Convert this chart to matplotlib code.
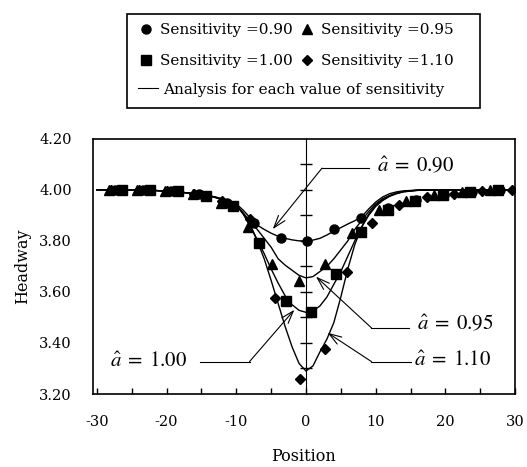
import numpy as np
import matplotlib
matplotlib.use("Agg")
import matplotlib.pyplot as plt
from matplotlib.lines import Line2D
from matplotlib.patches import Rectangle

plt.rcParams["font.family"] = ["DejaVu Serif"]
plt.rcParams["mathtext.fontset"] = "stix"
plt.rcParams["axes.unicode_minus"] = False

# measured points (position, headway) for each sensitivity
X_090 = [-27.4, -23.4, -19.4, -15.4, -11.4, -7.45, -3.57, 0.14, 4.0, 7.86, 11.8, 15.8, 19.8, 23.8, 27.8]
Y_090 = [4.00, 4.00, 3.995, 3.985, 3.95, 3.87, 3.81, 3.80, 3.846, 3.889, 3.93, 3.96, 3.98, 3.99, 4.00]

X_095 = [-28.2, -24.2, -20.2, -16.2, -12.2, -8.3, -4.9, -0.96, 2.7, 6.6, 10.5, 14.4, 18.4, 22.4, 26.4]
Y_095 = [4.00, 4.00, 3.995, 3.985, 3.95, 3.856, 3.71, 3.643, 3.71, 3.83, 3.92, 3.955, 3.98, 3.99, 4.00]

X_100 = [-26.4, -22.4, -18.4, -14.4, -10.5, -6.7, -2.86, 0.7, 4.3, 7.9, 11.7, 15.6, 19.6, 23.6, 27.6]
Y_100 = [4.00, 4.00, 3.995, 3.975, 3.935, 3.79, 3.565, 3.52, 3.67, 3.834, 3.92, 3.955, 3.98, 3.99, 4.00]

X_110 = [-28.0, -24.0, -20.0, -16.0, -12.0, -8.1, -4.4, -0.8, 2.7, 5.9, 9.5, 13.4, 17.3, 21.3, 25.3, 29.6]
Y_110 = [4.00, 4.00, 3.995, 3.985, 3.955, 3.886, 3.578, 3.258, 3.376, 3.68, 3.87, 3.94, 3.97, 3.985, 3.995, 4.00]

# analysis curves
CURVE_X = [-30, -26, -22, -19, -17, -15, -14, -13, -12, -11,
           -10, -9, -8, -7, -6, -5, -4, -3, -2, -1, 0, 1, 2, 3, 4, 5, 6, 7, 8, 9, 10, 11, 12, 13, 14,
           16, 18, 20, 25, 30]
CURVE_090 = [4.000, 4.000, 3.998, 3.993, 3.988, 3.982, 3.978, 3.972, 3.965, 3.956,
             3.945, 3.92, 3.89, 3.862, 3.845, 3.83, 3.818, 3.81, 3.804, 3.80, 3.80, 3.803, 3.81,
             3.823, 3.838, 3.852, 3.866, 3.879, 3.895, 3.925, 3.952, 3.972, 3.985, 3.992, 3.996,
             3.999, 4.0, 4.0, 4.0, 4.0]
CURVE_095 = [4.000, 4.000, 3.998, 3.993, 3.988, 3.982, 3.977, 3.971, 3.963, 3.953,
             3.94, 3.91, 3.875, 3.845, 3.81, 3.775, 3.73, 3.705, 3.685, 3.665, 3.655, 3.66, 3.68,
             3.70, 3.73, 3.765, 3.80, 3.845, 3.88, 3.915, 3.945, 3.965, 3.978, 3.988, 3.994,
             3.999, 4.0, 4.0, 4.0, 4.0]
CURVE_100 = [4.000, 4.000, 3.998, 3.993, 3.988, 3.982, 3.977, 3.970, 3.962, 3.952,
             3.94, 3.905, 3.86, 3.805, 3.75, 3.69, 3.635, 3.585, 3.55, 3.528, 3.52, 3.525, 3.545,
             3.58, 3.63, 3.68, 3.74, 3.80, 3.855, 3.90, 3.935, 3.958, 3.975, 3.986, 3.993,
             3.998, 4.0, 4.0, 4.0, 4.0]
CURVE_110 = [4.000, 4.000, 3.998, 3.993, 3.988, 3.982, 3.977, 3.970, 3.962, 3.952,
             3.94, 3.905, 3.86, 3.80, 3.73, 3.645, 3.555, 3.465, 3.385, 3.32, 3.29, 3.31, 3.365,
             3.415, 3.48, 3.58, 3.69, 3.785, 3.855, 3.905, 3.94, 3.96, 3.975, 3.985, 3.992,
             3.998, 4.0, 4.0, 4.0, 4.0]

X_TICKS = [-30, -20, -10, 0, 10, 20, 30]
Y_TICKS = [3.20, 3.40, 3.60, 3.80, 4.00, 4.20]

# (label, arrow tip, elbow, end of leader, text anchor)
NOTES = [
    (r"$\hat{a}\;=\;0.90$", (-4.77, 3.846), (2.3, 4.085), 9.0, (10.2, 4.098), "left"),
    (r"$\hat{a}\;=\;0.95$", (1.43, 3.66), (9.4, 3.459), 14.8, (15.9, 3.478), "left"),
    (r"$\hat{a}\;=\;1.10$", (3.1, 3.44), (9.4, 3.327), 15.1, (15.5, 3.333), "left"),
    (r"$\hat{a}\;=\;1.00$", (-1.67, 3.53), (-8.1, 3.327), -15.2, (-17.1, 3.327), "right"),
]

fig = plt.figure(figsize=(5.27, 4.67), dpi=100)
ax = fig.add_axes([0.176, 0.1563, 0.8013, 0.5465])

for cy in [CURVE_090, CURVE_095, CURVE_100, CURVE_110]:
    ax.plot(CURVE_X, cy, color="black", lw=1.0, zorder=2)

ms = 6.5
h1, = ax.plot(X_090, Y_090, "o", color="black", ms=ms, ls="none", zorder=3)
h2, = ax.plot(X_095, Y_095, "^", color="black", ms=ms + 0.5, ls="none", zorder=3)
h3, = ax.plot(X_100, Y_100, "s", color="black", ms=ms, ls="none", zorder=3)
h4, = ax.plot(X_110, Y_110, "D", color="black", ms=ms - 1, ls="none", zorder=3)

for label, tip, elbow, lead_end, tpos, ha in NOTES:
    ax.plot([elbow[0], lead_end], [elbow[1], elbow[1]], color="black", lw=0.8)
    ax.annotate("", xy=tip, xytext=elbow,
                arrowprops=dict(arrowstyle="->,head_length=0.9,head_width=0.3",
                                color="black", lw=0.8, shrinkA=0, shrinkB=0))
    ax.text(tpos[0], tpos[1], label, fontsize=15, ha=ha, va="center")

ax.set_xlim(-30.6, 30.0)
ax.set_ylim(3.2, 4.2)
ax.set_xticks(X_TICKS)
ax.set_xticks(np.arange(-25, 30, 10), minor=True)
ax.set_yticks(Y_TICKS)
ax.set_yticklabels([f"{v:.2f}" for v in Y_TICKS])
ax.tick_params(axis="x", which="both", direction="in", length=4, width=1, labelsize=10.5, pad=15)
ax.tick_params(axis="y", length=0, labelsize=10.5, pad=15)
for s in ax.spines.values():
    s.set_linewidth(1.2)

# vertical axis through x = 0 with crossing ticks
x0 = (0 - (-30.6)) / 60.6
mid = ax.secondary_yaxis(x0)
mid.set_yticks(np.arange(3.3, 4.15, 0.1))
mid.tick_params(direction="inout", length=8, width=1, labelleft=False, labelright=False)
mid.spines["left"].set_linewidth(1.2)

ax.set_xlabel("Position", fontsize=11.5, labelpad=14)
ax.set_ylabel("Headway", fontsize=11.5, labelpad=6)

# legend box
fig.legend([h1, h3, h2, h4],
           ["Sensitivity =0.90", "Sensitivity =1.00", "Sensitivity =0.95", "Sensitivity =1.10"],
           ncol=2, frameon=False, fontsize=11, loc="upper left",
           bbox_to_anchor=(0.266, 0.951), borderpad=0, borderaxespad=0,
           handlelength=0.8, handletextpad=0.5, columnspacing=0.55, labelspacing=1.12)
line_h = Line2D([], [], color="black", lw=0.8)
fig.legend([line_h], ["Analysis for each value of sensitivity"],
           frameon=False, fontsize=11, loc="upper left",
           bbox_to_anchor=(0.262, 0.823), borderpad=0, borderaxespad=0,
           handlelength=1.3, handletextpad=0.35)
fig.add_artist(Rectangle((0.241, 0.7687), 0.67, 0.201, transform=fig.transFigure,
                         fill=False, edgecolor="black", lw=1.2))

fig.savefig("out.png", dpi=100)
